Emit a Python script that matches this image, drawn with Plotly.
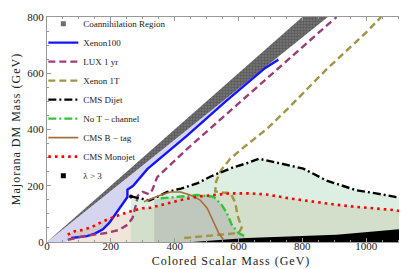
import plotly.graph_objects as go

# ---------------- data (GeV) ----------------
coann_x = [0, 800, 880, 0]
coann_y = [0, 800, 800, 0]

xenon100_x = [76, 100, 125, 150, 175, 195, 210, 225, 240, 252, 252, 270, 315, 439, 560, 683, 725]
xenon100_y = [14, 17, 21, 30, 45, 68, 92, 115, 140, 160, 186, 200, 260, 378, 500, 618, 648]

lux_x = [65, 112, 185, 226, 252, 268, 278, 285, 300, 320, 330, 345, 439, 907]
lux_y = [8, 20, 32, 43, 61, 85, 130, 165, 178, 170, 185, 230, 331, 800]

x1t_x = [430, 520, 600, 610, 597, 590, 575, 550, 527, 530, 545, 574, 620, 688, 760, 875, 1000, 1047]
x1t_y = [14, 24, 32, 50, 95, 140, 174, 176, 180, 215, 255, 296, 340, 401, 480, 613, 745, 800]

dijet_x = [263, 290, 320, 345, 377, 420, 470, 511, 585, 626, 663, 729, 803, 875, 938, 969, 1031, 1093, 1150]
dijet_y = [162, 155, 148, 160, 178, 190, 208, 232, 266, 280, 296, 280, 261, 219, 196, 184, 173, 161, 148]

notch_x = [356, 408, 470, 522, 548, 564, 579, 600, 621]
notch_y = [155, 161, 167, 161, 131, 102, 61, 32, 20]

btag_x = [304, 330, 356, 387, 418, 449, 480, 502, 522, 538, 553]
btag_y = [143, 156, 167, 178, 178, 167, 149, 120, 73, 32, 8]

monojet_x = [65, 86, 112, 138, 174, 200, 226, 258, 299, 325, 356, 418, 470, 522, 574, 636, 688, 761, 834, 896, 958, 1010, 1083, 1150]
monojet_y = [26, 38, 43, 52, 73, 85, 96, 108, 120, 122, 131, 149, 161, 167, 173, 173, 169, 155, 143, 134, 126, 120, 114, 102]

lam_x = [455, 626, 907, 1150, 1150]
lam_y = [0, 14, 26, 50, 0]

x_ticks = [0, 200, 400, 600, 800, 1000]
y_ticks = [0, 200, 400, 600, 800]

x_title = "Colored Scalar Mass (GeV)"
y_title = "Majorana DM Mass (GeV)"

XMAX = 1150
YMAX = 800


def spaced(s):
    return "\u200a".join(list(s))


fig = go.Figure()

# lavender Xenon100 excluded region (between diagonal and blue line)
lav_x = [0, xenon100_x[-1]] + xenon100_x[::-1] + [60]
lav_y = [0, xenon100_x[-1]] + xenon100_y[::-1] + [0]
fig.add_trace(go.Scatter(x=lav_x, y=lav_y, fill="toself", mode="none",
                         fillcolor="rgba(195,195,232,0.7)", showlegend=False, hoverinfo="skip"))

# monojet excluded region
fig.add_trace(go.Scatter(x=monojet_x + [XMAX, monojet_x[0]], y=monojet_y + [0, 0], fill="toself", mode="none",
                         fillcolor="rgba(210,180,150,0.35)", showlegend=False, hoverinfo="skip"))
# dijet excluded region
fig.add_trace(go.Scatter(x=[dijet_x[0]] + dijet_x + [XMAX], y=[0] + dijet_y + [0], fill="toself", mode="none",
                         fillcolor="rgba(165,210,180,0.38)", showlegend=False, hoverinfo="skip"))
# No T-channel region
fig.add_trace(go.Scatter(x=[336, 336] + notch_x + [626], y=[0, 150] + notch_y + [0], fill="toself", mode="none",
                         fillcolor="rgba(150,150,160,0.30)", showlegend=False, hoverinfo="skip"))

# coannihilation band
fig.add_trace(go.Scatter(x=coann_x, y=coann_y, fill="toself", mode="none",
                         fillcolor="rgb(95,95,95)",
                         fillpattern=dict(shape=".", fgcolor="rgb(55,55,55)", bgcolor="rgb(120,120,120)", size=3, solidity=0.5),
                         showlegend=False, hoverinfo="skip"))

# lambda > 3 region
fig.add_trace(go.Scatter(x=lam_x, y=lam_y, fill="toself", mode="none",
                         fillcolor="black", showlegend=False, hoverinfo="skip"))

line_specs = [
    ("Xenon100", xenon100_x, xenon100_y, dict(color="#1414ff", width=2.4, dash="solid")),
    ("LUX 1 yr", lux_x, lux_y, dict(color="#9e3c78", width=2.4, dash="7px,4px")),
    ("Xenon 1T", x1t_x, x1t_y, dict(color="#a39442", width=2.4, dash="7px,4px")),
    ("CMS Dijet", dijet_x, dijet_y, dict(color="black", width=2.4, dash="8px,3px,2px,3px")),
    ("No T − channel", notch_x, notch_y, dict(color="#33c433", width=2.4, dash="8px,3px,2px,3px")),
    ("CMS B − tag", btag_x, btag_y, dict(color="#a66e3c", width=1.6, dash="solid")),
    ("CMS Monojet", monojet_x, monojet_y, dict(color="#ff0000", width=2.6, dash="2.6px,4px")),
]

# legend: coannihilation
fig.add_trace(go.Scatter(x=[None], y=[None], mode="markers", name="Coannihilation Region",
                         marker=dict(symbol="square", size=5, color="rgb(110,110,110)")))

for name, xs, ys, ln in line_specs:
    fig.add_trace(go.Scatter(x=xs, y=ys, mode="lines", name=name, line=ln))

# dijet start dot
fig.add_trace(go.Scatter(x=[dijet_x[0]], y=[dijet_y[0]], mode="markers", showlegend=False,
                         marker=dict(color="black", size=4), hoverinfo="skip"))

fig.add_trace(go.Scatter(x=[None], y=[None], mode="markers", name="λ > 3",
                         marker=dict(symbol="square", size=5, color="black")))

font_family = "Liberation Serif"
axis_common = dict(
    showline=True, linecolor="#999999", linewidth=1, mirror="allticks",
    ticks="inside", ticklen=4, tickcolor="#999999",
    showgrid=False, zeroline=False,
    tickfont=dict(family=font_family, size=11, color="#222"),
    minor=dict(ticks="inside", ticklen=2, tickcolor="#999999", dtick=50),
)

fig.update_layout(
    width=407, height=269,
    margin=dict(l=39, r=1, t=7, b=35),
    paper_bgcolor="white", plot_bgcolor="white",
    xaxis=dict(range=[0, XMAX], tickvals=x_ticks, ticklabelstandoff=-6,
               title=dict(text=spaced(x_title), standoff=5,
                          font=dict(family=font_family, size=12, color="#222")), **axis_common),
    yaxis=dict(range=[0, YMAX], tickvals=y_ticks, title=dict(text=spaced(y_title), standoff=4,
               font=dict(family=font_family, size=12, color="#222")), **axis_common),
    legend=dict(x=-0.01, y=1.035, xanchor="left", yanchor="top", bgcolor="rgba(0,0,0,0)",
                font=dict(family=font_family, size=9, color="#222"), tracegroupgap=0, itemwidth=30,
                maxheight=260),
    showlegend=True,
)

fig.write_html("out.html")
